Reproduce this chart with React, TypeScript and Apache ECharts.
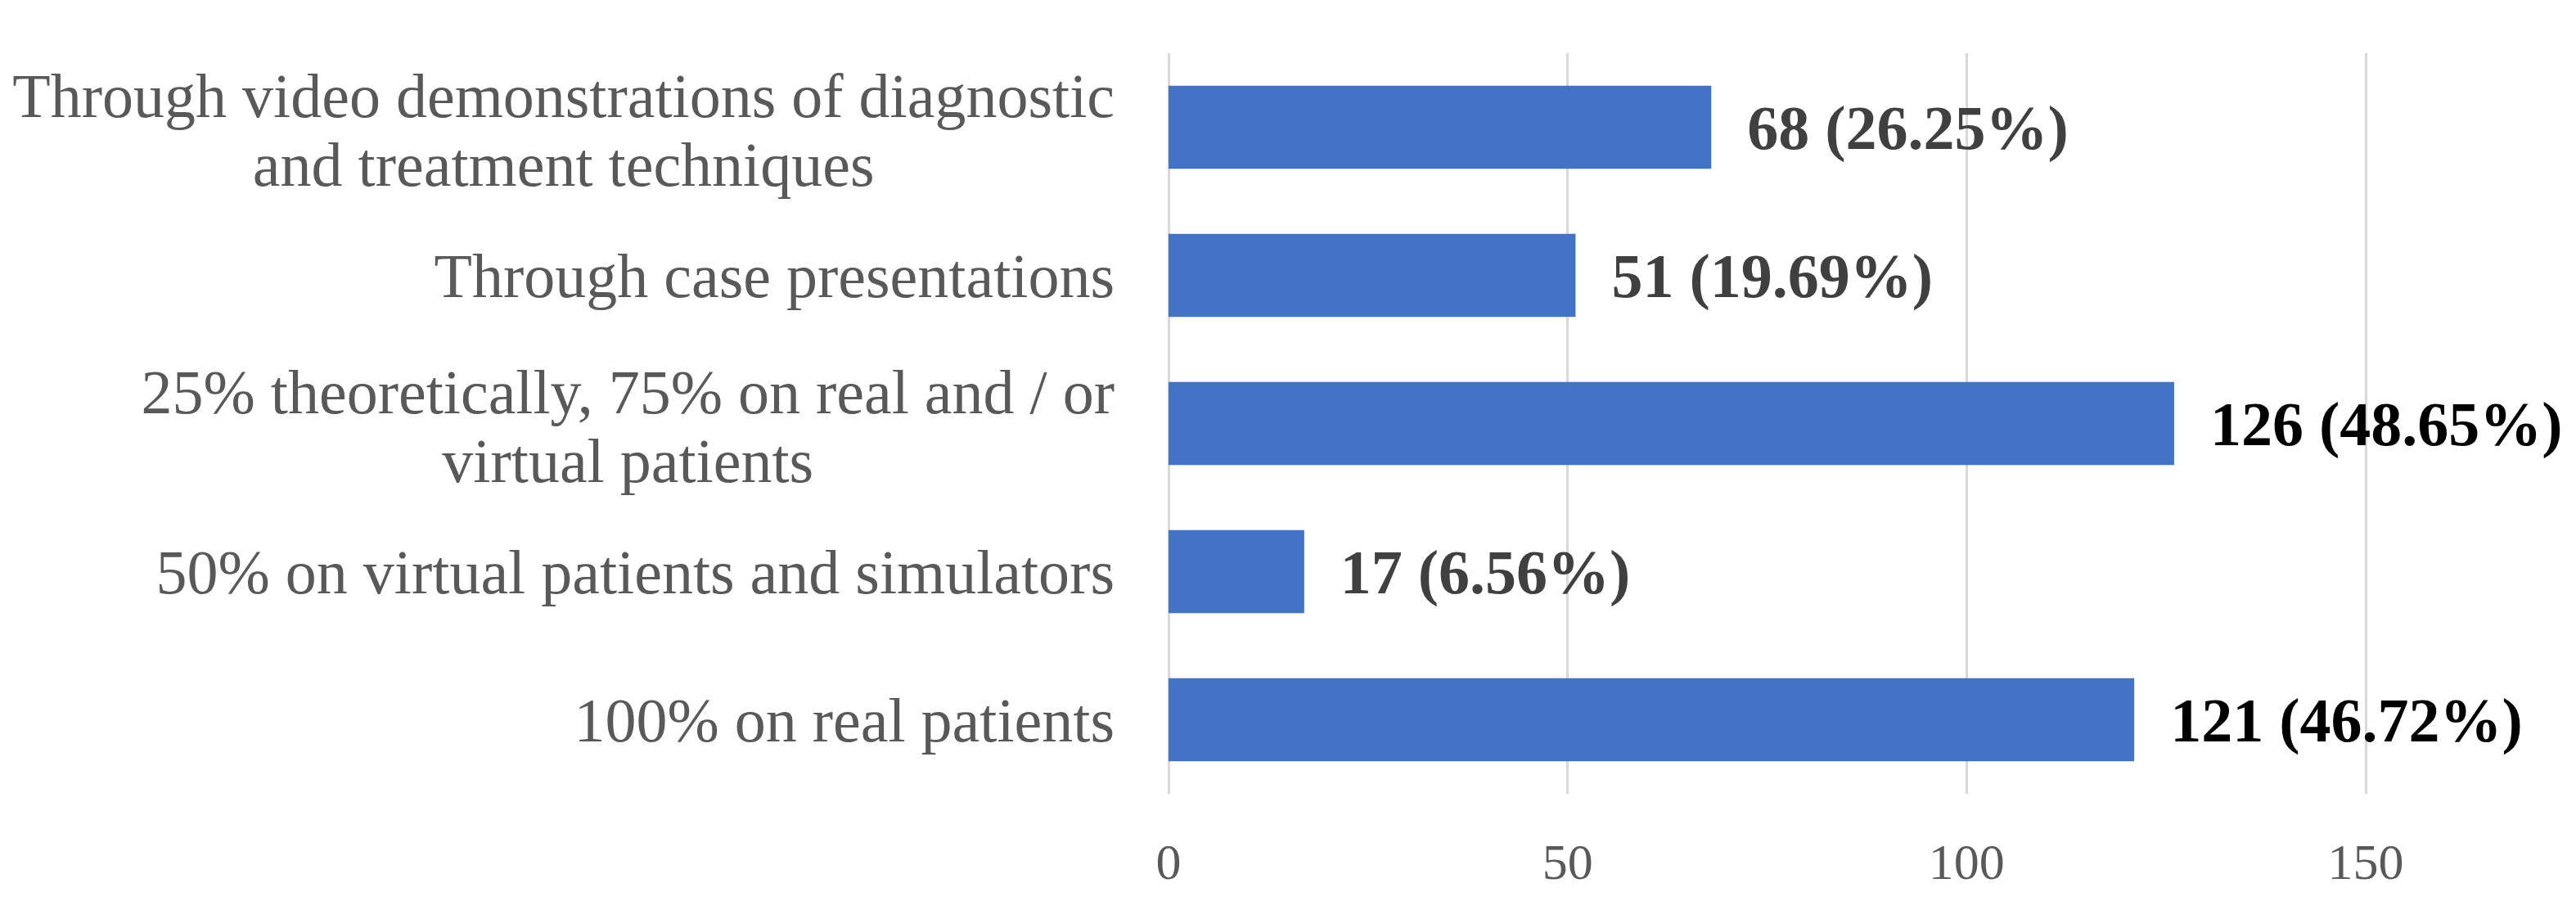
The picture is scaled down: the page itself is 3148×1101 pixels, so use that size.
import React, { useEffect, useRef } from "react";
import * as echarts from "echarts";

const categoryLines: string[][] = [
  ["Through video demonstrations of diagnostic", "and treatment techniques"],
  ["Through case presentations"],
  ["25% theoretically, 75% on real and / or", "virtual patients"],
  ["50% on virtual patients and simulators"],
  ["100% on real patients"],
];
const categories: string[] = categoryLines.map((l) => l.join(" "));
const counts: number[] = [68, 51, 126, 17, 121];
const percents: string[] = ["26.25%", "19.69%", "48.65%", "6.56%", "46.72%"];
const labelColors: string[] = ["#404040", "#404040", "#000000", "#404040", "#000000"];
const xTicks: number[] = [0, 50, 100, 150];

const SERIF = "'Liberation Serif', 'Times New Roman', Times, serif";

export default function App() {
  const ref = useRef<HTMLDivElement>(null);
  useEffect(() => {
    if (!ref.current) return;
    const chart = echarts.init(ref.current, undefined, { renderer: "svg" });
    chart.setOption({
      animation: false,
      backgroundColor: "#ffffff",
      grid: { left: 1428, right: 257, top: 65, bottom: 131, containLabel: false },
      xAxis: {
        type: "value",
        min: xTicks[0],
        max: xTicks[xTicks.length - 1],
        interval: xTicks[1] - xTicks[0],
        axisLine: { show: false },
        axisTick: { show: false },
        splitLine: { show: true, lineStyle: { color: "#d9d9d9", width: 3 } },
        axisLabel: {
          color: "#595959",
          fontFamily: SERIF,
          fontSize: 62,
          margin: 52,
        },
      },
      yAxis: {
        type: "category",
        data: categories,
        inverse: true,
        axisLine: { show: false },
        axisTick: { show: false },
        splitLine: { show: false },
        axisLabel: {
          margin: 66,
          color: "#595959",
          fontFamily: SERIF,
          fontSize: 76,
          lineHeight: 90,
          align: "right",
          formatter: (_v: string, idx: number) => {
            const lines = categoryLines[idx];
            if (lines.length === 1) return `{c|${lines[0]}}`;
            return lines.map((l, j) => (j === 0 ? `{f|${l}}` : `{c|${l}}`)).join("\n");
          },
          rich: {
            c: {
              align: "center",
              color: "#595959",
              fontFamily: SERIF,
              fontSize: 76,
              lineHeight: 90,
            },
            f: {
              align: "center",
              color: "#595959",
              fontFamily: SERIF,
              fontSize: 76,
              lineHeight: 90,
              padding: [12, 0, 0, 0],
            },
          },
        },
      },
      series: [
        {
          type: "bar",
          data: counts.map((v, i) => ({
            value: v,
            label: { color: labelColors[i] },
          })),
          barCategoryGap: "44%",
          itemStyle: { color: "#4472c4" },
          label: {
            show: true,
            position: "right",
            distance: 44,
            fontFamily: SERIF,
            fontWeight: "bold",
            fontSize: 76,
            formatter: (p: any) => `${counts[p.dataIndex]} (${percents[p.dataIndex]})`,
          },
        },
      ],
    });
    return () => chart.dispose();
  }, []);
  return (
    <div
      ref={ref}
      style={{ position: "absolute", left: 0, top: 0, width: 3148, height: 1101 }}
    />
  );
}
